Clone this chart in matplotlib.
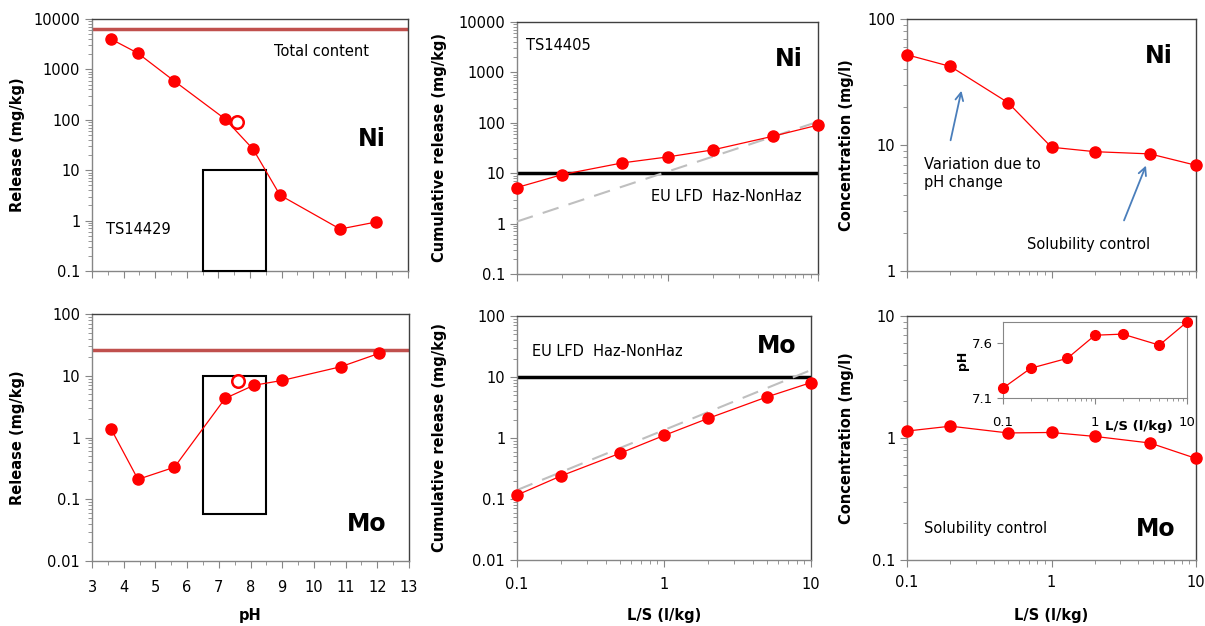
"""Ni / Mo leaching plots (pH dependence, percolation, concentration)"""
import matplotlib
matplotlib.use('Agg')
import matplotlib.pyplot as plt
from matplotlib.patches import Rectangle
from matplotlib.ticker import LogLocator, FuncFormatter, MultipleLocator, NullFormatter, FixedLocator
from matplotlib.transforms import blended_transform_factory

plt.rcParams['font.family'] = ['DejaVu Sans']

W, H = 1205, 626

# pH dependence test (TS14429)
ph_ni = [3.6, 4.45, 5.6, 7.2, 8.1, 8.95, 10.85, 12.0]
ni_ph = [4000, 2100, 590, 105, 26, 3.2, 0.68, 0.94]
ph_mo = [3.6, 4.45, 5.6, 7.2, 8.1, 9.0, 10.85, 12.05]
mo_ph = [1.38, 0.21, 0.33, 4.3, 7.0, 8.4, 14, 23]
ph_open = [7.6]
ni_open = [92]
mo_open = [8.2]
ni_total = 6300
mo_total = 26
ph_box = [6.5, 8.5]
ni_box = [0.1, 10]
mo_box = [0.058, 10]

# percolation test (TS14405)
ls = [0.1, 0.2, 0.5, 1, 2, 5, 10]
ls_conc = [0.1, 0.2, 0.5, 1, 2, 4.8, 10]
ni_cum = [5.2, 9.4, 16, 21, 29, 54, 90]
mo_cum = [0.116, 0.24, 0.56, 1.1, 2.1, 4.7, 8.1]
ni_limit = 10
mo_limit = 10
trend_x = [0.1, 10]
ni_trend = [1.1, 105]
mo_trend = [0.14, 13]
ni_conc = [52, 42, 21.7, 9.6, 8.85, 8.5, 6.9]
mo_conc = [1.14, 1.25, 1.10, 1.11, 1.03, 0.91, 0.68]
ph_ls = [7.19, 7.37, 7.46, 7.67, 7.68, 7.58, 7.79]

RED = '#ff0000'
GREY = '#868686'
DARK = '#404040'
TXT = 10.5

fig = plt.figure(figsize=(W / 100, H / 100), dpi=100)


def px_axes(x0, y0, x1, y1):
    return fig.add_axes([x0 / W, 1 - y1 / H, (x1 - x0) / W, (y1 - y0) / H])


def fmt(v, pos):
    return '%g' % v


def style(ax, ylabel, label_x, xlabels=True, xpad=7.5):
    for side, s in ax.spines.items():
        s.set_color(GREY if side in ('left', 'bottom') else DARK)
        s.set_linewidth(1)
    ax.tick_params(which='both', direction='out', color=GREY, labelsize=10.5)
    ax.tick_params(which='major', length=5)
    ax.tick_params(which='minor', length=3)
    ax.tick_params(axis='x', which='both', top=False, pad=xpad)
    ax.tick_params(axis='y', which='both', right=False)
    ax.set_yscale('log')
    ax.yaxis.set_major_locator(LogLocator(base=10, numticks=20))
    ax.yaxis.set_minor_locator(LogLocator(base=10, subs=range(2, 10), numticks=20))
    ax.yaxis.set_major_formatter(FuncFormatter(fmt))
    ax.yaxis.set_minor_formatter(NullFormatter())
    ax.set_ylabel(ylabel, fontsize=10.5, fontweight='bold')
    tr = blended_transform_factory(fig.transFigure, ax.transAxes)
    ax.yaxis.set_label_coords(label_x / W, 0.5, transform=tr)
    if not xlabels:
        ax.tick_params(axis='x', which='both', labelbottom=False)


def log_x(ax):
    ax.set_xscale('log')
    ax.set_xlim(0.1, 10)
    ax.xaxis.set_major_locator(FixedLocator([0.1, 1, 10]))
    ax.xaxis.set_minor_locator(LogLocator(base=10, subs=range(2, 10), numticks=20))
    ax.xaxis.set_major_formatter(FuncFormatter(fmt))
    ax.xaxis.set_minor_formatter(NullFormatter())


def ph_x(ax):
    ax.set_xlim(3, 13)
    ax.xaxis.set_major_locator(MultipleLocator(1))
    ax.xaxis.set_minor_locator(MultipleLocator(0.5))


def curve(ax, x, y):
    ax.plot(x, y, color=RED, lw=0.9, marker='o', ms=8, mec=RED, mfc=RED, clip_on=False, zorder=5)


def label_x(ax, text):
    ax.set_xlabel(text, fontsize=10.5, fontweight='bold')
    tr = blended_transform_factory(ax.transAxes, fig.transFigure)
    ax.xaxis.set_label_coords(0.5, 1 - 608 / H, transform=tr)


def box(ax, yb):
    ax.add_patch(Rectangle((ph_box[0], yb[0]), ph_box[1] - ph_box[0], yb[1] - yb[0],
                           fill=False, ec='black', lw=1.5, clip_on=False, zorder=3))


def fig_text(x, y, s, **kw):
    fig.text(x / W, 1 - y / H, s, fontsize=TXT, **kw)


# ---- top left: Ni vs pH
ax = px_axes(92, 19, 408, 271)
style(ax, 'Release (mg/kg)', 25, xlabels=False)
ph_x(ax)
ax.set_ylim(0.1, 10000)
ax.axhline(ni_total, color='#c0504d', lw=2.5, zorder=2)
box(ax, ni_box)
curve(ax, ph_ni, ni_ph)
ax.plot(ph_open, ni_open, 'o', ms=9, mfc='white', mec=RED, mew=1.8, zorder=6)
fig_text(274, 52, 'Total content', va='center')
fig_text(106, 230, 'TS14429', va='center')
ax.text(0.93, 0.525, 'Ni', transform=ax.transAxes, fontsize=17, fontweight='bold', ha='right', va='center')

# ---- bottom left: Mo vs pH
ax = px_axes(92, 314, 409, 561)
style(ax, 'Release (mg/kg)', 25, xpad=9)
ph_x(ax)
ax.set_ylim(0.01, 100)
ax.axhline(mo_total, color='#c0504d', lw=2.5, zorder=2)
box(ax, mo_box)
curve(ax, ph_mo, mo_ph)
ax.plot(ph_open, mo_open, 'o', ms=9, mfc='white', mec=RED, mew=1.8, zorder=6)
ax.text(0.93, 0.15, 'Mo', transform=ax.transAxes, fontsize=17, fontweight='bold', ha='right', va='center')
label_x(ax, 'pH')

# ---- top middle: cumulative Ni
ax = px_axes(517, 22, 818, 274)
style(ax, 'Cumulative release (mg/kg)', 447, xlabels=False)
log_x(ax)
ax.set_ylim(0.1, 10000)
ax.axhline(ni_limit, color='black', lw=2.5, zorder=2)
ax.plot(trend_x, ni_trend, color='#bfbfbf', lw=1.5, dashes=(8, 5), zorder=3)
curve(ax, ls, ni_cum)
fig_text(526, 46, 'TS14405', va='center')
ax.text(0.95, 0.855, 'Ni', transform=ax.transAxes, fontsize=17, fontweight='bold', ha='right', va='center')
fig_text(802, 196, 'EU LFD  Haz-NonHaz', ha='right', va='center')

# ---- bottom middle: cumulative Mo
ax = px_axes(517, 316, 811, 560)
style(ax, 'Cumulative release (mg/kg)', 447)
log_x(ax)
ax.set_ylim(0.01, 100)
ax.axhline(mo_limit, color='black', lw=2.5, zorder=2)
ax.plot(trend_x, mo_trend, color='#bfbfbf', lw=1.5, dashes=(8, 5), zorder=3)
curve(ax, ls, mo_cum)
fig_text(532, 352, 'EU LFD  Haz-NonHaz', va='center')
ax.text(0.95, 0.875, 'Mo', transform=ax.transAxes, fontsize=17, fontweight='bold', ha='right', va='center')
label_x(ax, 'L/S (l/kg)')

# ---- top right: Ni concentration
ax = px_axes(907, 19, 1196, 271)
style(ax, 'Concentration (mg/l)', 854, xlabels=False)
log_x(ax)
ax.set_ylim(1, 100)
curve(ax, ls_conc, ni_conc)
ax.text(0.92, 0.855, 'Ni', transform=ax.transAxes, fontsize=17, fontweight='bold', ha='right', va='center')
fig_text(924, 157, 'Variation due to\npH change', va='top', linespacing=1.25)
fig_text(1027, 245, 'Solubility control', va='center')
arrow = dict(arrowstyle='->', color='#4a7ebb', lw=1.3, mutation_scale=14)
ax.annotate('', xy=(962 / W, 1 - 88 / H), xytext=(950 / W, 1 - 143 / H),
            xycoords='figure fraction', textcoords='figure fraction', arrowprops=arrow)
ax.annotate('', xy=(1147 / W, 1 - 163 / H), xytext=(1123 / W, 1 - 223 / H),
            xycoords='figure fraction', textcoords='figure fraction', arrowprops=arrow)

# ---- bottom right: Mo concentration with pH inset
ax = px_axes(907, 316, 1196, 560)
style(ax, 'Concentration (mg/l)', 854, xpad=6)
log_x(ax)
ax.set_ylim(0.1, 10)
curve(ax, ls_conc, mo_conc)
fig_text(924, 528, 'Solubility control', va='center')
ax.text(0.93, 0.125, 'Mo', transform=ax.transAxes, fontsize=17, fontweight='bold', ha='right', va='center')
label_x(ax, 'L/S (l/kg)')

ins = px_axes(1003, 322, 1187, 398)
for s in ins.spines.values():
    s.set_color(GREY)
ins.set_xscale('log')
ins.set_xlim(0.1, 10)
ins.set_ylim(7.1, 7.79)
ins.xaxis.set_major_locator(FixedLocator([0.1, 1, 10]))
ins.xaxis.set_major_formatter(FuncFormatter(fmt))
ins.xaxis.set_minor_locator(LogLocator(base=10, subs=range(2, 10), numticks=20))
ins.xaxis.set_minor_formatter(NullFormatter())
ins.yaxis.set_major_locator(FixedLocator([7.1, 7.6]))
ins.tick_params(which='both', direction='out', color=GREY, labelsize=9.5)
ins.tick_params(axis='x', which='major', length=4, pad=9)
ins.tick_params(axis='x', which='minor', length=2)
ins.tick_params(axis='y', length=4)
ins.plot(ls, ph_ls, color=RED, lw=0.9, marker='o', ms=7, clip_on=False, zorder=5)
ins.set_ylabel('pH', fontsize=9, fontweight='bold', labelpad=2)
ins.set_xlabel('L/S (l/kg)', fontsize=9.5, fontweight='bold')
ins.xaxis.set_label_coords(0.74, -0.29)

fig.savefig('out.png', dpi=100)
